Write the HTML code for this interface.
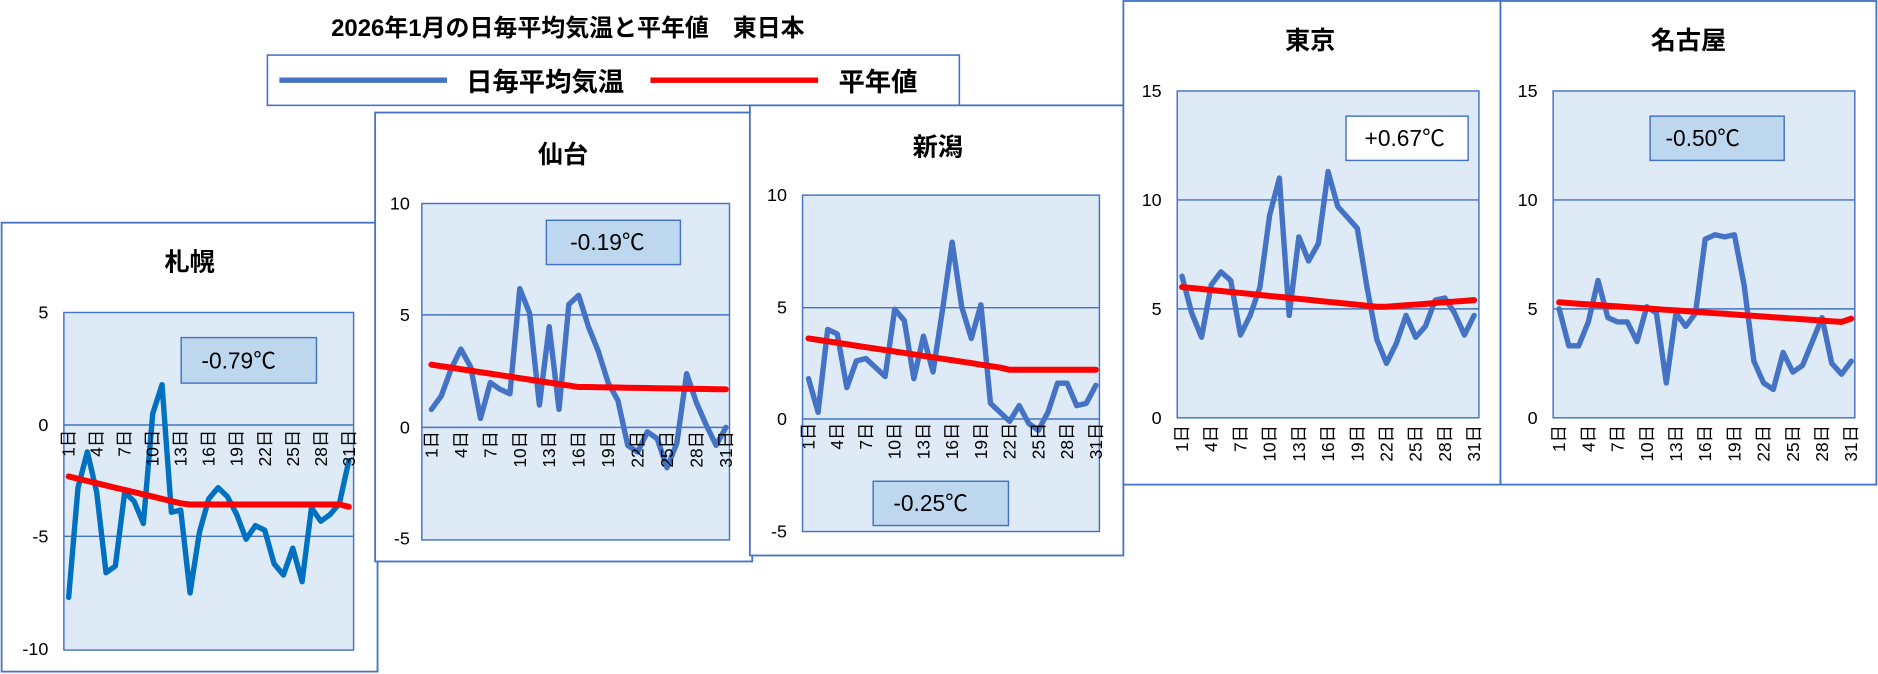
<!DOCTYPE html>
<html><head><meta charset="utf-8"><style>
html,body{margin:0;padding:0;background:#fff;}
svg{display:block;}
text{font-family:"Liberation Sans","Noto Sans CJK JP",sans-serif;fill:#000;}
.yl{font-size:15px;text-anchor:end;}
.xl{font-size:14.5px;text-anchor:end;}
.tt{font-size:21px;font-weight:bold;text-anchor:middle;}
.bx{font-size:19px;text-anchor:middle;}
</style></head><body>
<svg id="s" width="1878" height="674" viewBox="0 0 1568 563" xmlns="http://www.w3.org/2000/svg">
<rect width="1568" height="563" fill="#fff"/>
<text x="474" y="30" style="font-size:20px;font-weight:bold;text-anchor:middle">2026年1月の日毎平均気温と平年値　東日本</text>
<rect x="223" y="46" width="578" height="42" fill="#fff" stroke="#4472C4" stroke-width="1.3"/>
<line x1="233" y1="67" x2="373" y2="67" stroke="#4472C4" stroke-width="4.5"/>
<text x="455" y="76" style="font-size:22px;font-weight:bold;text-anchor:middle">日毎平均気温</text>
<line x1="543" y1="67" x2="683" y2="67" stroke="#f00" stroke-width="4.5"/>
<text x="733" y="76" style="font-size:22px;font-weight:bold;text-anchor:middle">平年値</text>

<g>
<rect x="1" y="186" width="314" height="375" fill="#fff" stroke="#4472C4" stroke-width="1.5"/>
<text class="tt" x="158" y="226">札幌</text>
<rect x="53" y="261" width="242" height="282" fill="#DEEAF6" stroke="#4472C4" stroke-width="1.2"/>
<line x1="53" y1="355" x2="295" y2="355" stroke="#4472C4" stroke-width="1.2"/>
<line x1="53" y1="448" x2="295" y2="448" stroke="#4472C4" stroke-width="1.2"/>
<text class="yl" x="40" y="266">5</text><text class="yl" x="40" y="360">0</text><text class="yl" x="40" y="453">-5</text><text class="yl" x="40" y="547">-10</text>
<rect x="151" y="282" width="113" height="38" fill="#BDD7EE" stroke="#4472C4" stroke-width="1.2"/>
<text class="bx" x="199" y="308">-0.79℃</text>
<g id="sp"></g>
<text class="xl" transform="translate(57,359) rotate(-90)" dy="5">1日</text>
<text class="xl" transform="translate(80.4,359) rotate(-90)" dy="5">4日</text>
<text class="xl" transform="translate(103.8,359) rotate(-90)" dy="5">7日</text>
<text class="xl" transform="translate(127.2,359) rotate(-90)" dy="5">10日</text>
<text class="xl" transform="translate(150.6,359) rotate(-90)" dy="5">13日</text>
<text class="xl" transform="translate(174,359) rotate(-90)" dy="5">16日</text>
<text class="xl" transform="translate(197.4,359) rotate(-90)" dy="5">19日</text>
<text class="xl" transform="translate(220.8,359) rotate(-90)" dy="5">22日</text>
<text class="xl" transform="translate(244.2,359) rotate(-90)" dy="5">25日</text>
<text class="xl" transform="translate(267.6,359) rotate(-90)" dy="5">28日</text>
<text class="xl" transform="translate(291,359) rotate(-90)" dy="5">31日</text>
</g>

<g>
<rect x="313" y="94" width="315" height="375" fill="#fff" stroke="#4472C4" stroke-width="1.5"/>
<text class="tt" x="470" y="136">仙台</text>
<rect x="352" y="170" width="257" height="281" fill="#DEEAF6" stroke="#4472C4" stroke-width="1.2"/>
<line x1="352" y1="263" x2="609" y2="263" stroke="#4472C4" stroke-width="1.2"/>
<line x1="352" y1="357" x2="609" y2="357" stroke="#4472C4" stroke-width="1.2"/>
<text class="yl" x="342" y="175">10</text><text class="yl" x="342" y="268">5</text><text class="yl" x="342" y="362">0</text><text class="yl" x="342" y="455">-5</text>
<rect x="456" y="184" width="112" height="37" fill="#BDD7EE" stroke="#4472C4" stroke-width="1.2"/>
<text class="bx" x="507" y="209">-0.19℃</text>
<g id="sd"></g>
<text class="xl" transform="translate(360,360) rotate(-90)" dy="5">1日</text>
<text class="xl" transform="translate(384.6,360) rotate(-90)" dy="5">4日</text>
<text class="xl" transform="translate(409.2,360) rotate(-90)" dy="5">7日</text>
<text class="xl" transform="translate(433.8,360) rotate(-90)" dy="5">10日</text>
<text class="xl" transform="translate(458.4,360) rotate(-90)" dy="5">13日</text>
<text class="xl" transform="translate(483,360) rotate(-90)" dy="5">16日</text>
<text class="xl" transform="translate(507.6,360) rotate(-90)" dy="5">19日</text>
<text class="xl" transform="translate(532.2,360) rotate(-90)" dy="5">22日</text>
<text class="xl" transform="translate(556.8,360) rotate(-90)" dy="5">25日</text>
<text class="xl" transform="translate(581.4,360) rotate(-90)" dy="5">28日</text>
<text class="xl" transform="translate(606,360) rotate(-90)" dy="5">31日</text>
</g>

<g>
<rect x="626" y="88" width="312" height="376" fill="#fff" stroke="#4472C4" stroke-width="1.5"/>
<text class="tt" x="783" y="130">新潟</text>
<rect x="670" y="163" width="248" height="281" fill="#DEEAF6" stroke="#4472C4" stroke-width="1.2"/>
<line x1="670" y1="257" x2="918" y2="257" stroke="#4472C4" stroke-width="1.2"/>
<line x1="670" y1="350" x2="918" y2="350" stroke="#4472C4" stroke-width="1.2"/>
<text class="yl" x="657" y="168">10</text><text class="yl" x="657" y="262">5</text><text class="yl" x="657" y="355">0</text><text class="yl" x="657" y="449">-5</text>
<rect x="729" y="402" width="113" height="37" fill="#BDD7EE" stroke="#4472C4" stroke-width="1.2"/>
<text class="bx" x="777" y="427">-0.25℃</text>
<g id="ng"></g>
<text class="xl" transform="translate(675,353) rotate(-90)" dy="5">1日</text>
<text class="xl" transform="translate(699,353) rotate(-90)" dy="5">4日</text>
<text class="xl" transform="translate(723,353) rotate(-90)" dy="5">7日</text>
<text class="xl" transform="translate(747,353) rotate(-90)" dy="5">10日</text>
<text class="xl" transform="translate(771,353) rotate(-90)" dy="5">13日</text>
<text class="xl" transform="translate(795,353) rotate(-90)" dy="5">16日</text>
<text class="xl" transform="translate(819,353) rotate(-90)" dy="5">19日</text>
<text class="xl" transform="translate(843,353) rotate(-90)" dy="5">22日</text>
<text class="xl" transform="translate(867,353) rotate(-90)" dy="5">25日</text>
<text class="xl" transform="translate(891,353) rotate(-90)" dy="5">28日</text>
<text class="xl" transform="translate(915,353) rotate(-90)" dy="5">31日</text>
</g>

<g>
<rect x="938" y="0.8" width="315" height="404" fill="#fff" stroke="#4472C4" stroke-width="1.5"/>
<text class="tt" x="1094" y="41">東京</text>
<rect x="983" y="76" width="252" height="273" fill="#DEEAF6" stroke="#4472C4" stroke-width="1.2"/>
<line x1="983" y1="167" x2="1235" y2="167" stroke="#4472C4" stroke-width="1.2"/>
<line x1="983" y1="258" x2="1235" y2="258" stroke="#4472C4" stroke-width="1.2"/>
<text class="yl" x="970" y="81">15</text><text class="yl" x="970" y="172">10</text><text class="yl" x="970" y="263">5</text><text class="yl" x="970" y="354">0</text>
<rect x="1124" y="97" width="102" height="37" fill="#fff" stroke="#4472C4" stroke-width="1.2"/>
<text class="bx" x="1173" y="122">+0.67℃</text>
<g id="tk"></g>
<text class="xl" transform="translate(987,355) rotate(-90)" dy="5">1日</text>
<text class="xl" transform="translate(1011.4,355) rotate(-90)" dy="5">4日</text>
<text class="xl" transform="translate(1035.8,355) rotate(-90)" dy="5">7日</text>
<text class="xl" transform="translate(1060.2,355) rotate(-90)" dy="5">10日</text>
<text class="xl" transform="translate(1084.6,355) rotate(-90)" dy="5">13日</text>
<text class="xl" transform="translate(1109,355) rotate(-90)" dy="5">16日</text>
<text class="xl" transform="translate(1133.4,355) rotate(-90)" dy="5">19日</text>
<text class="xl" transform="translate(1157.8,355) rotate(-90)" dy="5">22日</text>
<text class="xl" transform="translate(1182.2,355) rotate(-90)" dy="5">25日</text>
<text class="xl" transform="translate(1206.6,355) rotate(-90)" dy="5">28日</text>
<text class="xl" transform="translate(1231,355) rotate(-90)" dy="5">31日</text>
</g>

<g>
<rect x="1253" y="0.8" width="314" height="404" fill="#fff" stroke="#4472C4" stroke-width="1.5"/>
<text class="tt" x="1410" y="41">名古屋</text>
<rect x="1297" y="76" width="252" height="273" fill="#DEEAF6" stroke="#4472C4" stroke-width="1.2"/>
<line x1="1297" y1="167" x2="1549" y2="167" stroke="#4472C4" stroke-width="1.2"/>
<line x1="1297" y1="258" x2="1549" y2="258" stroke="#4472C4" stroke-width="1.2"/>
<text class="yl" x="1284" y="81">15</text><text class="yl" x="1284" y="172">10</text><text class="yl" x="1284" y="263">5</text><text class="yl" x="1284" y="354">0</text>
<rect x="1378" y="97" width="112" height="37" fill="#BDD7EE" stroke="#4472C4" stroke-width="1.2"/>
<text class="bx" x="1422" y="122">-0.50℃</text>
<g id="ngy"></g>
<text class="xl" transform="translate(1302,355) rotate(-90)" dy="5">1日</text>
<text class="xl" transform="translate(1326.4,355) rotate(-90)" dy="5">4日</text>
<text class="xl" transform="translate(1350.8,355) rotate(-90)" dy="5">7日</text>
<text class="xl" transform="translate(1375.2,355) rotate(-90)" dy="5">10日</text>
<text class="xl" transform="translate(1399.6,355) rotate(-90)" dy="5">13日</text>
<text class="xl" transform="translate(1424,355) rotate(-90)" dy="5">16日</text>
<text class="xl" transform="translate(1448.4,355) rotate(-90)" dy="5">19日</text>
<text class="xl" transform="translate(1472.8,355) rotate(-90)" dy="5">22日</text>
<text class="xl" transform="translate(1497.2,355) rotate(-90)" dy="5">25日</text>
<text class="xl" transform="translate(1521.6,355) rotate(-90)" dy="5">28日</text>
<text class="xl" transform="translate(1546,355) rotate(-90)" dy="5">31日</text>
</g>
</svg>
<script>
(function(){
var NS="http://www.w3.org/2000/svg";
function lin(a,b,n){var r=[];for(var i=0;i<n;i++)r.push(a+(b-a)*i/(n-1));return r;}
function draw(id,x1,xN,y0,ppu,data,norm,col){
  var g=document.getElementById(id);
  function pl(vals,c,w){
    var pts=vals.map(function(v,i){return (x1+(xN-x1)*i/30).toFixed(1)+","+(y0-v*ppu).toFixed(1);}).join(" ");
    var p=document.createElementNS(NS,"polyline");
    p.setAttribute("points",pts);p.setAttribute("fill","none");p.setAttribute("stroke",c);
    p.setAttribute("stroke-width",w);p.setAttribute("stroke-linejoin","round");p.setAttribute("stroke-linecap","round");
    g.appendChild(p);
  }
  pl(data,col,4.5);pl(norm,"#f00",5);
}
var sapN=lin(-2.3,-3.5,13).concat(lin(-3.55,-3.55,17)).concat([-3.65]);
draw("sp",57,291,355,18.7,[-7.7,-2.8,-1.2,-3.0,-6.6,-6.3,-3.0,-3.4,-4.4,0.5,1.8,-3.9,-3.8,-7.5,-4.8,-3.3,-2.8,-3.2,-4.0,-5.1,-4.5,-4.7,-6.2,-6.7,-5.5,-7.0,-3.7,-4.3,-4.0,-3.5,-1.6],sapN,"#0070C0");
var sdN=lin(2.8,1.8,16).concat(lin(1.8,1.7,15));
draw("sd",360,606,357,18.7,[0.8,1.4,2.6,3.5,2.7,0.4,2.0,1.7,1.5,6.2,5.1,1.0,4.5,0.8,5.5,5.9,4.5,3.4,2.0,1.2,-0.8,-1.1,-0.2,-0.5,-1.8,-0.7,2.4,1.1,0.1,-0.8,0.0],sdN,"#4472C4");
var ngN=lin(3.6,2.3,21).concat(lin(2.2,2.2,10));
draw("ng",675,915,350,18.7,[1.8,0.3,4.0,3.8,1.4,2.6,2.7,2.3,1.9,4.9,4.4,1.8,3.7,2.1,4.9,7.9,5.0,3.6,5.1,0.7,0.3,-0.1,0.6,-0.2,-0.5,0.3,1.6,1.6,0.6,0.7,1.5],ngN,"#4472C4");
var tkN=lin(6.0,5.1,21).concat(lin(5.1,5.4,10));
draw("tk",987,1231,349,18.2,[6.5,4.8,3.7,6.1,6.7,6.3,3.8,4.7,6.0,9.3,11.0,4.7,8.3,7.2,8.0,11.3,9.7,9.2,8.7,6.0,3.6,2.5,3.4,4.7,3.7,4.2,5.4,5.5,4.8,3.8,4.7],tkN,"#4472C4");
var nyN=lin(5.3,4.4,30).concat([4.55]);
draw("ngy",1302,1546,349,18.2,[5.0,3.3,3.3,4.4,6.3,4.6,4.4,4.4,3.5,5.1,4.8,1.6,4.8,4.2,4.8,8.2,8.4,8.3,8.4,6.1,2.6,1.6,1.3,3.0,2.1,2.4,3.5,4.6,2.5,2.0,2.6],nyN,"#4472C4");
})();
</script>
</body></html>
